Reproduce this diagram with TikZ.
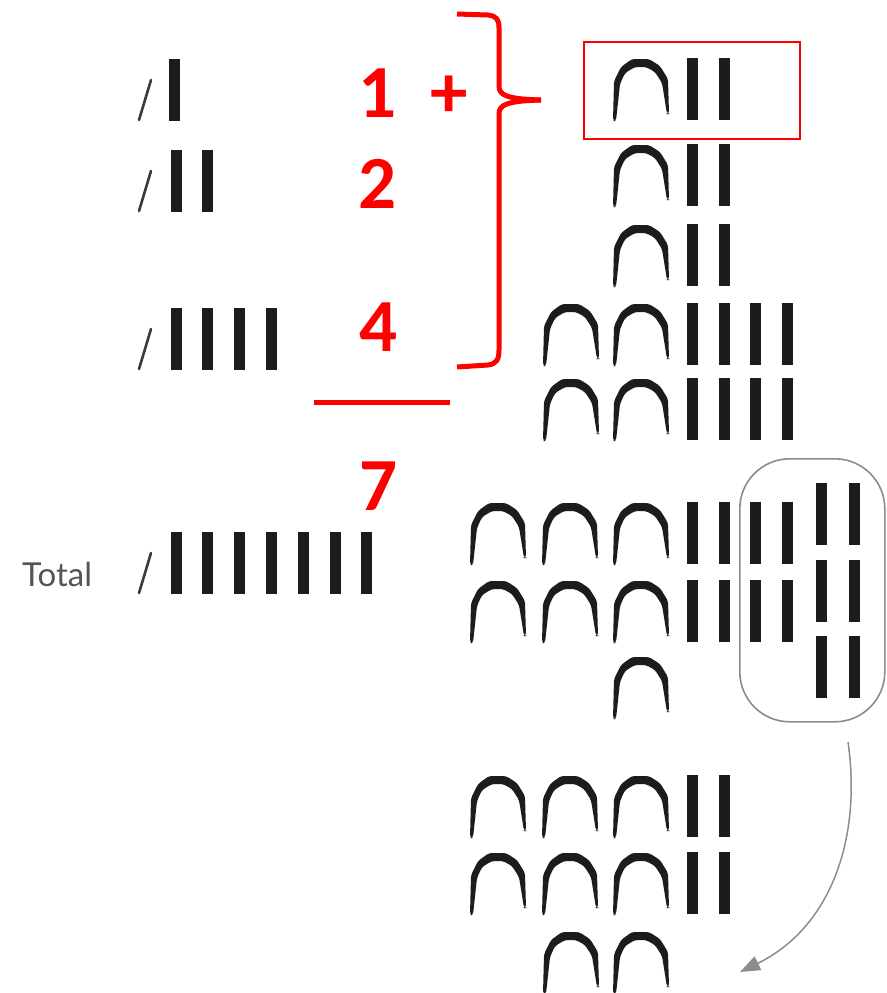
\documentclass[tikz,border=0pt]{standalone}
\usepackage{fontspec}
\setmainfont{Carlito}
\newfontfamily\latofont{Lato}
\usetikzlibrary{arrows.meta}
\definecolor{barcol}{HTML}{1C1C1C}
\definecolor{slashcol}{HTML}{3A3A3A}
\definecolor{loopcol}{HTML}{8C8C8C}
\definecolor{txtgray}{HTML}{555555}
\tikzset{
  archpic/.pic={
    \fill[barcol, rounded corners=3pt] (0,63) -- (1,23) -- (8,9) -- (19,1) -- (36,1) -- (47,8) -- (55,21) -- (56,56) -- (54,56)
      -- (49,25) -- (42,14) -- (33,9) -- (22,9) -- (12,15) -- (7,26) -- (3,63) -- cycle;
  },
  tallypic/.pic={\fill[barcol] (0,0) rectangle (11,62);},
  slashpic/.pic={\draw[slashcol, line width=2.6pt, line cap=round] (12,21) -- (0,61);},
  rednum/.style={text=red, font=\fontsize{75}{75}\selectfont\bfseries, inner sep=0pt, anchor=base},
  redline/.style={draw=red, line width=5pt},
}
\begin{document}
\begin{tikzpicture}[x=1pt,y=-1pt]
\useasboundingbox (0,0) rectangle (886,993);
\fill[white] (0,0) rectangle (886,993);

% ---- left column tallies ----
\pic at (139,59) {slashpic};
\pic at (169,59) {tallypic};
\pic at (139,150) {slashpic};
\foreach \x in {171,202} \pic at (\x,150) {tallypic};
\pic at (139,308) {slashpic};
\foreach \x in {171,202,234,266} \pic at (\x,308) {tallypic};
\pic at (139,532) {slashpic};
\foreach \x in {171,202,234,266,298,330,361} \pic at (\x,532) {tallypic};
\node[text=txtgray, font=\latofont\fontsize{33}{33}\selectfont, anchor=base west, inner sep=0pt] (total) at (22,586) {Total};

% ---- red numbers ----
\node[rednum] (n1) at (378,117) {1};
\node[text=red, font=\fontsize{75}{75}\selectfont\bfseries, inner sep=0pt] (plus) at (449,97) {+};
\node[rednum] (n2) at (378,208) {2};
\node[rednum] (n4) at (379,351) {4};
\node[rednum] (n7) at (379,510) {7};
\coordinate (ruleL) at (314,402);
\coordinate (ruleR) at (450,402);
\draw[redline] (ruleL) -- (ruleR);

% ---- red brace ----
\coordinate (braceTop) at (457,14);
\coordinate (braceTip) at (541,100);
\coordinate (braceBot) at (457,367);
\draw[redline, line join=round] (braceTop) -- (488,15) .. controls (497,16) and (499,20) .. (499,28) -- (499,86)
   .. controls (499,95) and (506,99) .. (braceTip);
\draw[redline, line join=round] (braceTip) .. controls (506,101) and (499,105) .. (499,114) -- (499,350)
   .. controls (499,360) and (496,364) .. (488,365) -- (braceBot);

% ---- red box ----
\node[draw=red, line width=2pt, minimum width=216pt, minimum height=97pt, anchor=north west, inner sep=0pt] (box) at (583,41) {};

% ---- right column ----
\foreach \y in {58,144,224} {
  \pic at (613,\y) {archpic};
  \pic at (687,\y) {tallypic};
  \pic at (719,\y) {tallypic};
}
\foreach \y in {303,378} {
  \pic at (543,\y) {archpic};
  \pic at (613,\y) {archpic};
  \foreach \x in {687,719,750,782} \pic at (\x,\y) {tallypic};
}
\foreach \y in {502,580} {
  \foreach \x in {470,542,613} \pic at (\x,\y) {archpic};
  \foreach \x in {687,719,750,782} \pic at (\x,\y) {tallypic};
}
\pic at (613,656) {archpic};
\foreach \y in {483,560,636} {
  \pic at (816,\y) {tallypic};
  \pic at (849,\y) {tallypic};
}
\node[draw=loopcol, line width=1.6pt, rounded corners=50pt, minimum width=145pt, minimum height=263pt, anchor=north west, inner sep=0pt] (loop) at (739,458) {};

\foreach \y in {775,852} {
  \foreach \x in {470,542,613} \pic at (\x,\y) {archpic};
  \pic at (687,\y) {tallypic};
  \pic at (719,\y) {tallypic};
}
\foreach \x in {543,613} \pic at (\x,931) {archpic};

% ---- curved arrow ----
\coordinate (arrS) at (848,742);
\coordinate (arrE) at (740,972);
\draw[loopcol, line width=1.5pt, -{Triangle[length=20pt,width=15pt]}] (arrS) .. controls (862,840) and (830,928) .. (arrE);
\end{tikzpicture}
\end{document}
